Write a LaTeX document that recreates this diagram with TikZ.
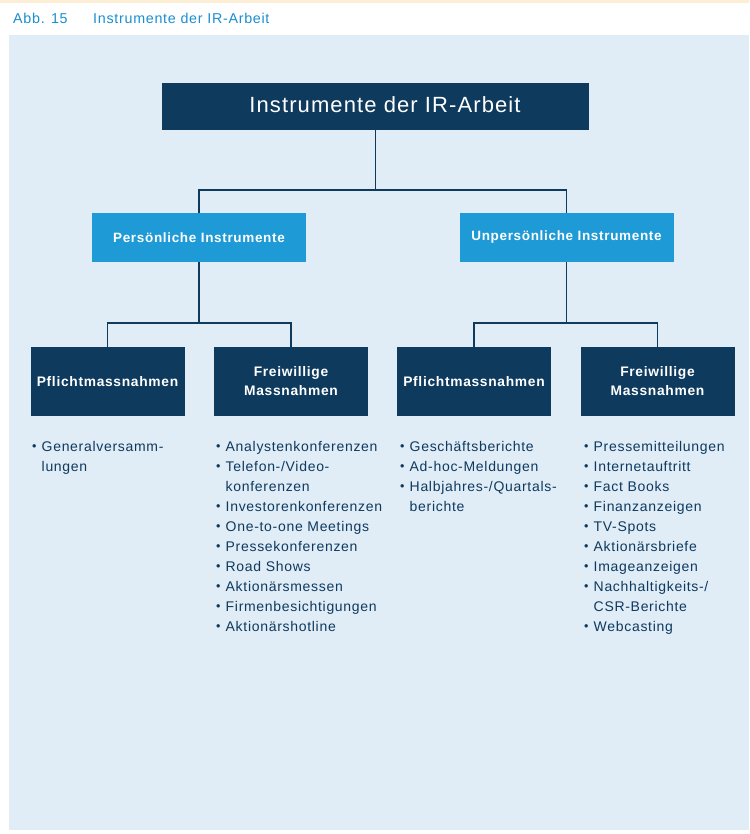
\documentclass[tikz,border=0pt]{standalone}
\usepackage{fontspec}
\setmainfont{Liberation Sans}[LetterSpace=5]
\definecolor{navy}{HTML}{0E3A5E}
\definecolor{cyanbox}{HTML}{1E9AD6}
\definecolor{panel}{HTML}{E0ECF6}
\definecolor{titleblue}{HTML}{1A8FD0}
\definecolor{topstrip}{HTML}{FCEFD6}
\tikzset{
  topbox/.style={fill=navy, text=white, minimum width=427pt, minimum height=47pt, inner sep=0pt, font=\fontsize{22}{24}\selectfont},
  midbox/.style={fill=cyanbox, text=white, minimum width=214pt, minimum height=49pt, inner sep=0pt, font=\fontsize{13.5}{15}\selectfont\bfseries},
  lowbox/.style={fill=navy, text=white, minimum width=154pt, minimum height=69pt, inner sep=0pt, align=center, font=\fontsize{13.8}{19}\selectfont\bfseries},
  conn/.style={draw=navy, line width=1.6pt},
  listtxt/.style={anchor=north west, inner sep=0pt, align=left, text=navy, font=\fontsize{14}{20}\selectfont},
  headtxt/.style={anchor=west, text=titleblue, font=\fontsize{14.3}{16}\selectfont, inner sep=0pt},
}
\newcommand{\bul}{\makebox[9.5pt][l]{\raisebox{0.5pt}{\scalebox{0.9}{•}}}}
\newcommand{\cont}{\hspace*{9.5pt}}
\begin{document}
\begin{tikzpicture}[x=1pt,y=-1pt]
\useasboundingbox (0,0) rectangle (749,834);
\fill[white] (0,0) rectangle (749,834);
\fill[topstrip] (0,0) rectangle (749,3);
\fill[panel] (9,35) rectangle (749,830);
\node[headtxt] (abb) at (13,18) {Abb. 15};
\node[headtxt] (ttl) at (93,18) {Instrumente der IR-Arbeit};

\node[topbox] (top) at (375.5,106.5) {};
\node[text=white, font=\fontsize{22}{24}\selectfont, inner sep=0pt] (toptxt) at (385,105) {Instrumente der IR-Arbeit};
\node[midbox] (pers) at (199,237.5) {Persönliche Instrumente};
\node[midbox] (unp) at (566.5,237.5) {Unpersönliche Instrumente};
\node[lowbox] (p1) at (107.5,381.5) {Pflichtmassnahmen};
\node[lowbox] (f1) at (291,381.5) {Freiwillige\\Massnahmen};
\node[lowbox] (p2) at (474,381.5) {Pflichtmassnahmen};
\node[lowbox] (f2) at (657.5,381.5) {Freiwillige\\Massnahmen};

\coordinate (j0) at (375.5,190);
\coordinate (j1) at (199,323);
\coordinate (j2) at (566.5,323);
\draw[conn] (top.south) -- (j0);
\draw[conn] (pers.north) |- (j0) -| (unp.north);
\draw[conn] (pers.south) -- (j1);
\draw[conn] (p1.north) |- (j1) -| (f1.north);
\draw[conn] (unp.south) -- (j2);
\draw[conn] (p2.north) |- (j2) -| (f2.north);

\node[listtxt] (l1) at (32,441) {\bul Generalversamm-\\\cont lungen};
\node[listtxt] (l2) at (216,441) {\bul Analystenkonferenzen\\\bul Telefon-/Video-\\\cont konferenzen\\\bul Investorenkonferenzen\\\bul One-to-one Meetings\\\bul Pressekonferenzen\\\bul Road Shows\\\bul Aktionärsmessen\\\bul Firmenbesichtigungen\\\bul Aktionärshotline};
\node[listtxt] (l3) at (400,441) {\bul Geschäftsberichte\\\bul Ad-hoc-Meldungen\\\bul Halbjahres-/Quartals-\\\cont berichte};
\node[listtxt] (l4) at (584,441) {\bul Pressemitteilungen\\\bul Internetauftritt\\\bul Fact Books\\\bul Finanzanzeigen\\\bul TV-Spots\\\bul Aktionärsbriefe\\\bul Imageanzeigen\\\bul Nachhaltigkeits-/\\\cont CSR-Berichte\\\bul Webcasting};
\end{tikzpicture}
\end{document}
